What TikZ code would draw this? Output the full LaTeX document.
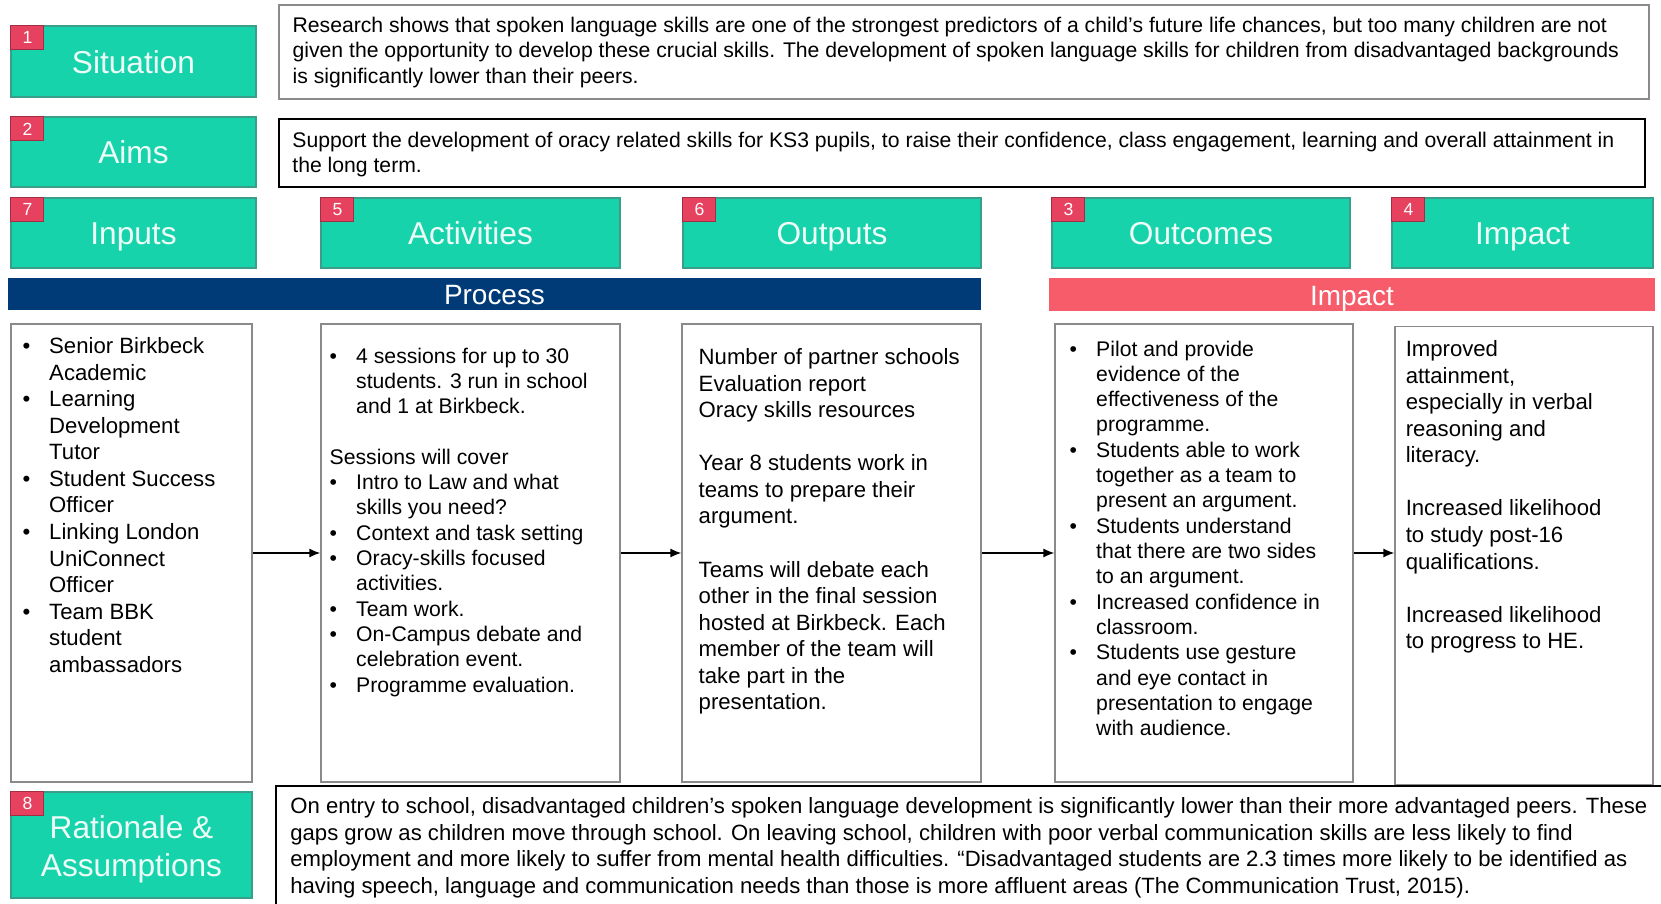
\documentclass[tikz,border=0pt]{standalone}
\usepackage{fontspec}
\setmainfont{Liberation Sans}
\usetikzlibrary{positioning, arrows.meta}

\definecolor{hdrgreen}{HTML}{16D3AC}
\definecolor{hdredge}{HTML}{3A9E8A}
\definecolor{hdrtext}{HTML}{EEFCF7}
\definecolor{badgered}{HTML}{E6425F}
\definecolor{procblue}{HTML}{003B78}
\definecolor{impred}{HTML}{F65C6A}
\definecolor{boxgray}{HTML}{8A8A8A}

% bullet with hanging indent, and the indent alone
\newcommand{\itm}{\makebox[0.53cm][l]{\textbullet}}
\newcommand{\ind}{\hspace*{0.53cm}}

\begin{document}
\begin{tikzpicture}[
    hdr/.style={rectangle, draw=hdredge, line width=0.6pt, fill=hdrgreen, text=hdrtext, font=\fontsize{18}{21.7}\selectfont, minimum height=1.4cm, inner sep=0pt},
    oneline/.style={text height=13.6pt, text depth=0pt},
    badge/.style={rectangle, draw=badgered!70!black, line width=0.5pt, fill=badgered, text=white, font=\fontsize{10}{12}\selectfont, minimum width=0.66cm, minimum height=0.48cm, inner sep=0pt, anchor=north west},
    bar/.style={rectangle, text=white, font=\fontsize{15.9}{19}\selectfont, minimum height=0.65cm, inner sep=0pt, text height=12pt, text depth=0pt},
    panel/.style={rectangle, draw=boxgray, line width=0.7pt, minimum height=9.16cm, inner sep=0pt},
    note/.style={rectangle, draw=black, line width=1.1pt, inner sep=0pt},
    toptext/.style={align=left, inner sep=0pt, font=\fontsize{12.05}{14.45}\selectfont},
    bodytext/.style={align=left, inner sep=0pt, font=\fontsize{12.6}{15.1}\selectfont},
    listtext/.style={align=left, inner sep=0pt, font=\fontsize{12.05}{14.4}\selectfont},
    arrow/.style={-{Latex[length=0.22cm, width=0.18cm]}, line width=0.85pt}
]
% page frame
\useasboundingbox (0,0) rectangle (33.22,18.06);

% Situation and aims
\node[hdr, oneline, minimum width=4.9cm, minimum height=1.42cm] (sit) at (2.67,16.83) {Situation};
\node[badge] (b1) at (sit.north west) {1};
\node[note, draw=boxgray, line width=0.8pt, minimum width=27.4cm, minimum height=1.88cm] (sitbox) at (19.28,17.02) {};
\node[toptext, below right=0.25cm and 0.28cm of sitbox.north west] (sittxt) {Research shows that spoken language skills are one of the strongest predictors of a child’s future life chances, but too many children are not\\given the opportunity to develop these crucial skills. The development of spoken language skills for children from disadvantaged backgrounds\\is significantly lower than their peers.};

\node[hdr, oneline, minimum width=4.9cm] (aims) at (2.67,15.02) {Aims};
\node[badge] (b2) at (aims.north west) {2};
\node[note, minimum width=27.32cm, minimum height=1.36cm] (aimsbox) at (19.24,15.0) {};
\node[toptext, below right=0.27cm and 0.28cm of aimsbox.north west] (aimstxt) {Support the development of oracy related skills for KS3 pupils, to raise their confidence, class engagement, learning and overall attainment in\\the long term.};

% Column headers
\node[hdr, oneline, minimum width=4.9cm] (inputs) at (2.67,13.4) {Inputs};
\node[badge] (b7) at (inputs.north west) {7};
\node[hdr, oneline, minimum width=5.98cm] (activities) at (9.41,13.4) {Activities};
\node[badge] (b5) at (activities.north west) {5};
\node[hdr, oneline, minimum width=5.96cm] (outputs) at (16.64,13.4) {Outputs};
\node[badge] (b6) at (outputs.north west) {6};
\node[hdr, oneline, minimum width=5.96cm] (outcomes) at (24.02,13.4) {Outcomes};
\node[badge] (b3) at (outcomes.north west) {3};
\node[hdr, oneline, minimum width=5.22cm] (impact) at (30.45,13.4) {Impact};
\node[badge] (b4) at (impact.north west) {4};

% Process / Impact bars
\node[bar, fill=procblue, minimum width=19.46cm] (procbar) at (9.89,12.18) {Process};
\node[bar, fill=impred, minimum width=12.12cm] (impbar) at (27.04,12.17) {Impact};

% Content panels
\node[panel, minimum width=4.82cm] (inbox) at (2.63,7.0) {};
\node[panel, minimum width=5.98cm] (actbox) at (9.41,7.0) {};
\node[panel, minimum width=5.98cm] (outbox) at (16.63,7.0) {};
\node[panel, minimum width=5.96cm] (ocbox) at (24.08,7.0) {};
\node[panel, minimum width=5.16cm] (impbox) at (30.48,6.95) {};

\node[bodytext, below right=0.28cm and 0.24cm of inbox.north west] (intxt) {\itm Senior Birkbeck\\\ind Academic\\\itm Learning\\\ind Development\\\ind Tutor\\\itm Student Success\\\ind Officer\\\itm Linking London\\\ind UniConnect\\\ind Officer\\\itm Team BBK\\\ind student\\\ind ambassadors};

\node[listtext, below right=0.48cm and 0.18cm of actbox.north west] (acttxt) {\itm 4 sessions for up to 30\\\ind students. 3 run in school\\\ind and 1 at Birkbeck.\\[\baselineskip]Sessions will cover\\\itm Intro to Law and what\\\ind skills you need?\\\itm Context and task setting\\\itm Oracy-skills focused\\\ind activities.\\\itm Team work.\\\itm On-Campus debate and\\\ind celebration event.\\\itm Programme evaluation.};

\node[bodytext, below right=0.5cm and 0.34cm of outbox.north west] (outtxt) {Number of partner schools\\Evaluation report\\Oracy skills resources\\[\baselineskip]Year 8 students work in\\teams to prepare their\\argument.\\[\baselineskip]Teams will debate each\\other in the final session\\hosted at Birkbeck. Each\\member of the team will\\take part in the\\presentation.};

\node[listtext, below right=0.34cm and 0.3cm of ocbox.north west] (octxt) {\itm Pilot and provide\\\ind evidence of the\\\ind effectiveness of the\\\ind programme.\\\itm Students able to work\\\ind together as a team to\\\ind present an argument.\\\itm Students understand\\\ind that there are two sides\\\ind to an argument.\\\itm Increased confidence in\\\ind classroom.\\\itm Students use gesture\\\ind and eye contact in\\\ind presentation to engage\\\ind with audience.};

\node[bodytext, below right=0.29cm and 0.22cm of impbox.north west] (imptxt) {Improved\\attainment,\\especially in verbal\\reasoning and\\literacy.\\[\baselineskip]Increased likelihood\\to study post-16\\qualifications.\\[\baselineskip]Increased likelihood\\to progress to HE.};

% Flow between panels
\draw[arrow] (inbox.east) -- (actbox.west);
\draw[arrow] (actbox.east) -- (outbox.west);
\draw[arrow] (outbox.east) -- (ocbox.west);
\draw[arrow] (ocbox.east) -- (impbox.west |- ocbox.east);

% Rationale
\node[hdr, minimum width=4.82cm, minimum height=2.12cm] (ratl) at (2.63,1.16) {};
\node[align=center, text=hdrtext, font=\fontsize{18}{21.7}\selectfont, inner sep=0pt] (ratltxt) at ([yshift=-0.08cm]ratl.center) {Rationale \&\\Assumptions};
\node[badge] (b8) at (ratl.north west) {8};
\node[note, minimum width=27.88cm, minimum height=2.48cm] (ratbox) at (19.46,1.1) {};
\node[toptext, font=\fontsize{12.58}{15.1}\selectfont, below right=0.25cm and 0.3cm of ratbox.north west] (rattxt) {On entry to school, disadvantaged children’s spoken language development is significantly lower than their more advantaged peers. These\\gaps grow as children move through school. On leaving school, children with poor verbal communication skills are less likely to find\\employment and more likely to suffer from mental health difficulties. “Disadvantaged students are 2.3 times more likely to be identified as\\having speech, language and communication needs than those is more affluent areas (The Communication Trust, 2015).};

\end{tikzpicture}
\end{document}
